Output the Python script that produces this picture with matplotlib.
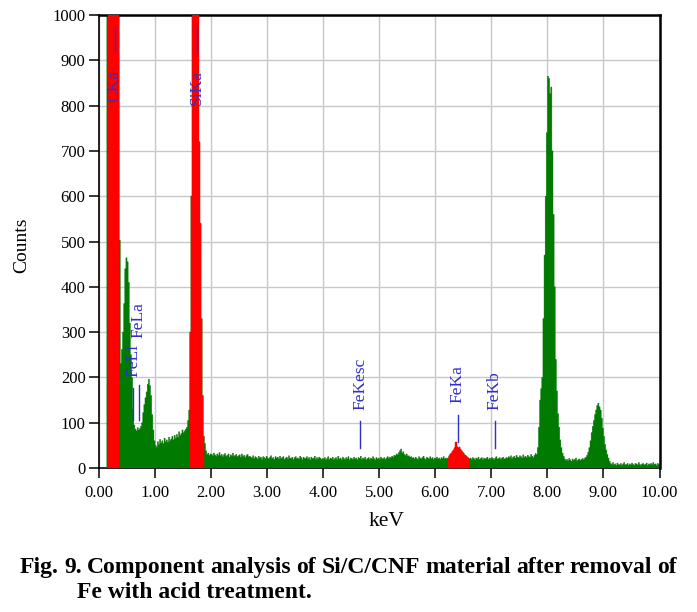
import numpy as np
import matplotlib
matplotlib.use("Agg")
import matplotlib.pyplot as plt

# ---------------- data (counts per 0.02 keV channel) ----------------
BIN_KEV = 0.02

counts_00_20 = [
    0, 0, 0, 0, 0, 0, 0, 2500, 2500, 2500, 2500, 2500, 2500, 2500, 2500, 2500, 2500, 2500,
    503, 231, 262, 300, 363, 440, 464, 455, 410, 320,
    250, 200, 130, 95, 86, 82, 89, 84, 87, 92,
    100, 122, 140, 155, 168, 185, 196, 182, 160, 118,
    84, 60,
    50, 46, 58, 52, 63, 55, 60, 54, 66, 58, 62, 57, 68, 60, 64, 70, 62, 72, 66, 74,
    68, 80, 72, 76, 84, 78, 82, 86, 90, 105, 128,
    300, 600, 1200, 2500, 2500, 2500, 2500, 2500, 720, 540, 330, 160, 70,
    54, 38, 30, 33, 28, 31,
]
counts_20_40 = [
    30, 27, 33, 29, 26, 31, 28, 34, 27, 30, 25, 29, 32, 26, 28, 31, 24, 29, 27, 33,
    26, 28, 30, 25, 27, 29, 24, 31, 26, 28, 23, 27, 30, 25, 26,
    24, 22, 27, 21, 25, 23, 20, 26, 22, 24, 19, 25, 23, 21, 26, 22, 20, 24, 27, 21,
    23, 19, 25, 22, 24, 20, 26, 21, 23, 25, 19, 22, 24, 20, 27, 22, 21, 24, 19, 23,
    25, 21, 22, 20, 26, 23, 19, 24, 21, 22, 25, 20, 23, 18, 24, 21, 22, 26, 19, 23,
    20, 24, 22, 19, 21,
]
counts_40_60 = [
    20, 23, 18, 21, 25, 19, 22, 20, 24, 18, 21, 23, 19, 26, 20, 22, 18, 24, 21, 19,
    23, 20, 25, 18, 22, 21, 19, 24, 20, 22, 18, 23, 21, 26, 19, 22, 20, 24, 18, 21,
    23, 19, 22, 20, 25, 21, 18, 23, 20, 22, 19, 24, 21, 20, 23, 19, 22, 25, 21, 24,
    23, 26, 24, 28, 27, 31, 29, 34, 38, 42, 33, 36, 30, 28, 31, 26, 27, 24, 25, 22,
    23, 20, 24, 21, 19, 25, 22, 20, 23, 26, 21, 19, 24, 22, 20, 25, 21, 23, 19, 22,
]
counts_60_80 = [
    21, 24, 20, 22, 19, 23, 21, 25, 20, 22, 21,
    22, 27, 31, 33, 37, 40, 45, 57, 47, 44, 46, 41, 38, 35, 32, 28, 26, 24, 22,
    20, 22, 19, 23, 21, 18, 22, 20, 24, 19, 21, 23, 18, 22, 20, 21, 24, 19, 22, 20,
    23, 21, 18, 22, 25, 20, 21, 23, 19, 22, 24, 20, 21, 23,
    22, 25, 23, 27, 21, 24, 26, 22, 28, 24, 23, 27, 25, 22, 29, 24, 26, 23, 28, 25,
    24, 30, 26, 23, 28, 32,
    30, 45, 90, 150, 175, 200, 330, 470, 600, 740,
]
counts_80_100 = [
    865, 860, 827, 841, 700, 560, 400, 240, 170, 120, 90, 62, 45, 33, 26,
    20, 17, 19, 16, 21, 18, 15, 20, 17, 19, 22, 16, 18, 20, 17, 19, 21, 18, 22, 24, 28,
    35, 45, 60, 78, 92, 105, 118, 128, 138, 143, 135, 128, 110, 88, 70, 52, 40, 30, 22, 15,
    10, 8, 12, 7, 9, 6, 11, 8, 7, 10, 6, 9, 12, 7, 8, 10, 6, 9, 7, 11,
    8, 6, 10, 9, 7, 12, 8, 6, 9, 10, 7, 8, 11, 6, 9, 8, 10, 7, 12, 8,
    9, 6, 10, 8,
]

# highlighted (red) regions of interest, keV
roi_lo = [0.16, 1.62, 6.22]
roi_hi = [0.36, 1.88, 6.60]

# peak identification markers
line_names = ["CKa", "SiKa", "FeLl", "FeLa", "FeKesc", "FeKa", "FeKb"]
line_keV = [0.277, 1.740, 0.615, 0.705, 4.66, 6.40, 7.06]

x_ticks = [0, 1, 2, 3, 4, 5, 6, 7, 8, 9, 10]
x_ticklabels = ["0.00", "1.00", "2.00", "3.00", "4.00", "5.00", "6.00", "7.00", "8.00", "9.00", "10.00"]
y_ticks = [0, 100, 200, 300, 400, 500, 600, 700, 800, 900, 1000]

# ---------------- layout / style ----------------
W, H = 697, 612
SERIF = "Liberation Serif"
GREEN = "#007a00"
RED = "#ff0000"
BLUE = "#3030c8"

# label layout (counts): (text anchor y, text va, marker y0, marker y1)
label_layout = {
    "CKa":    (879, "top",    917, 975),
    "SiKa":   (879, "top",    917, 975),
    "FeLl":   (201, "bottom", 106, 177),
    "FeLa":   (287, "bottom", 106, 183),
    "FeKesc": (128, "bottom", 44, 103),
    "FeKa":   (144, "bottom", 57, 117),
    "FeKb":   (128, "bottom", 44, 103),
}

counts = np.array(counts_00_20 + counts_20_40 + counts_40_60 + counts_60_80 + counts_80_100, dtype=float)
assert len(counts) == 500, len(counts)
edges = np.round(np.arange(len(counts) + 1) * BIN_KEV, 4)
counts_ext = np.append(counts, counts[-1])

fig = plt.figure(figsize=(W / 100, H / 100), dpi=100)
ax = fig.add_axes([99 / W, 1 - 468 / H, (659.5 - 99) / W, (468 - 15) / H])

ax.set_xlim(0, 10)
ax.set_ylim(0, 1000)
ax.set_axisbelow(True)
ax.grid(True, color="#c8c8c8", lw=1.0)

ax.fill_between(edges, 0, counts_ext, step="post", facecolor=GREEN, edgecolor=GREEN,
                lw=0.3, zorder=2)
for lo, hi in zip(roi_lo, roi_hi):
    i0 = int(round(lo / BIN_KEV))
    i1 = int(round(hi / BIN_KEV))
    seg = np.append(counts[i0:i1], counts[i1 - 1])
    ax.fill_between(edges[i0:i1 + 1], 0, seg, step="post", facecolor=RED, edgecolor=RED,
                    lw=0.3, zorder=3)

for name, e in zip(line_names, line_keV):
    ty, va, y0, y1 = label_layout[name]
    ax.plot([e, e], [y0, y1], color=BLUE, lw=1.0, zorder=4)
    ax.text(e, ty, name, rotation=90, ha="center", va=va, color=BLUE,
            fontsize=12.5, family=SERIF, zorder=5)

ax.set_xticks(x_ticks)
ax.set_xticklabels(x_ticklabels)
ax.set_yticks(y_ticks)
ax.tick_params(axis="both", direction="out", length=7.2, width=1.1, color="black",
               labelsize=12)
ax.tick_params(axis="x", pad=5)
ax.tick_params(axis="y", pad=2.5)
for lab in ax.get_xticklabels() + ax.get_yticklabels():
    lab.set_family(SERIF)

for side in ["left", "top", "right", "bottom"]:
    ax.spines[side].set_color("black")
ax.spines["left"].set_linewidth(1.2)
ax.spines["top"].set_linewidth(1.8)
ax.spines["right"].set_linewidth(1.8)
ax.spines["bottom"].set_linewidth(1.2)
ax.spines["bottom"].set_zorder(1)

fig.text(22 / W, 1 - 245 / H, "Counts", rotation=90, ha="center", va="center",
         fontsize=14, family=SERIF)
fig.text(387 / W, 1 - 522 / H, "keV", ha="center", va="center",
         fontsize=15.5, family=SERIF)

# caption with justified first line
cap1 = "Fig. 9. Component analysis of Si/C/CNF material after removal of"
cap2 = "Fe with acid treatment."
fig.canvas.draw()
rend = fig.canvas.get_renderer()
cap_kw = dict(fontsize=17, fontweight="bold", family=SERIF, va="baseline", ha="left")
words = cap1.split(" ")
objs = [fig.text(0, 0, w, **cap_kw) for w in words]
widths = [o.get_window_extent(renderer=rend).width for o in objs]
x0, x1 = 20, 677
gap = (x1 - x0 - sum(widths)) / (len(words) - 1)
x = x0
for o, wd in zip(objs, widths):
    o.set_position((x / W, 1 - 573 / H))
    x += wd + gap
fig.text(77 / W, 1 - 598 / H, cap2, **cap_kw)

fig.savefig("out.png", dpi=100)
